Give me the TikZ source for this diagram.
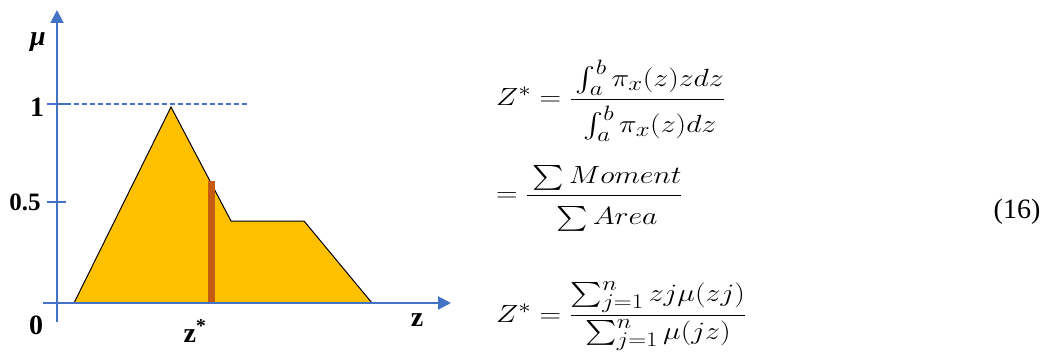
\documentclass[tikz,border=0pt]{standalone}
\usepackage{fontspec}
\setmainfont{Liberation Serif}
\usepackage{amsmath}
\usepackage{graphicx}
\usetikzlibrary{arrows.meta}
\definecolor{axisblue}{HTML}{4472C4}
\definecolor{fillyellow}{HTML}{FFC000}
\definecolor{baror}{HTML}{C55A11}
\tikzset{
  axisline/.style={draw=axisblue, line width=2pt},
  axisarrow/.style={axisline, -{Triangle[width=13pt,length=13pt]}},
  ticklabel/.style={font=\fontsize{28}{30}\selectfont\bfseries, inner sep=0pt},
  eqn/.style={font=\fontsize{24.88}{30}\selectfont, inner sep=0pt, anchor=west},
}
\newcommand{\eqscale}[1]{\scalebox{1.2}[1]{#1}}
\newcommand{\dstrut}[1]{\rule[-#1]{0pt}{#1}}
\newcommand{\hstrut}[1]{\rule{0pt}{#1}}
\begin{document}
\begin{tikzpicture}[x=1pt,y=1pt]
\useasboundingbox (0,0) rectangle (1051,359);
% coordinates
\coordinate (ybot) at (57,37);
\coordinate (ytop) at (57,349);
\coordinate (xleft) at (43,56);
\coordinate (xright) at (451,56);
% membership polygon
\coordinate (p1) at (74,56);
\coordinate (p2) at (171,252);
\coordinate (p3) at (231,138);
\coordinate (p4) at (304,138);
\coordinate (p5) at (372,56);
\fill[fillyellow] (p1) -- (p2) -- (p3) -- (p4) -- (p5) -- cycle;
\draw[black, line width=1pt] (p5) -- (p4) -- (p3) -- (p2) -- (p1) -- (274,56);
% centroid bar
\fill[baror] (208,56) rectangle (215,178);
% axes
\draw[axisarrow] (ybot) -- (ytop);
\draw[axisarrow] (xleft) -- (xright);
% ticks
\draw[axisline] (47,255) -- (66,255);
\draw[axisline] (47,157) -- (66,157);
\draw[draw=axisblue, line width=1.2pt, dash pattern=on 5pt off 3pt] (66,255) -- (249,255);
% labels
\node[font=\fontsize{28}{30}\selectfont\bfseries\itshape, inner sep=0pt] (mu) at (38,317) {μ};
\node[ticklabel] (one) at (37,252) {1};
\node[ticklabel, font=\fontsize{25}{28}\selectfont\bfseries] (half) at (25,157) {0.5};
\node[ticklabel] (zero) at (36,34) {0};
\node[ticklabel, anchor=base] (zstar) at (195,17) {z\textsuperscript{*}};
\node[ticklabel] (zlab) at (417,39) {z};
% equations
\node[eqn] (eq1) at (496,258) {\eqscale{$Z^* = \dfrac{\dstrut{9pt}\int_a^b \pi_x(z) z dz}{\hstrut{30pt}\int_a^b \pi_x(z) dz}$}};
\node[eqn] (eq2) at (496,161) {\eqscale{$= \dfrac{\dstrut{8pt}\sum Moment}{\hstrut{26pt}\sum Area}$}};
\node[eqn] (eq3) at (496,43) {\eqscale{$Z^* = \dfrac{\sum_{j=1}^{n} zj\mu(zj)}{\sum_{j=1}^{n} \mu(jz)}$}};
\node[font=\fontsize{28}{30}\selectfont, inner sep=0pt] (num) at (1017,147) {(16)};
\end{tikzpicture}
\end{document}
